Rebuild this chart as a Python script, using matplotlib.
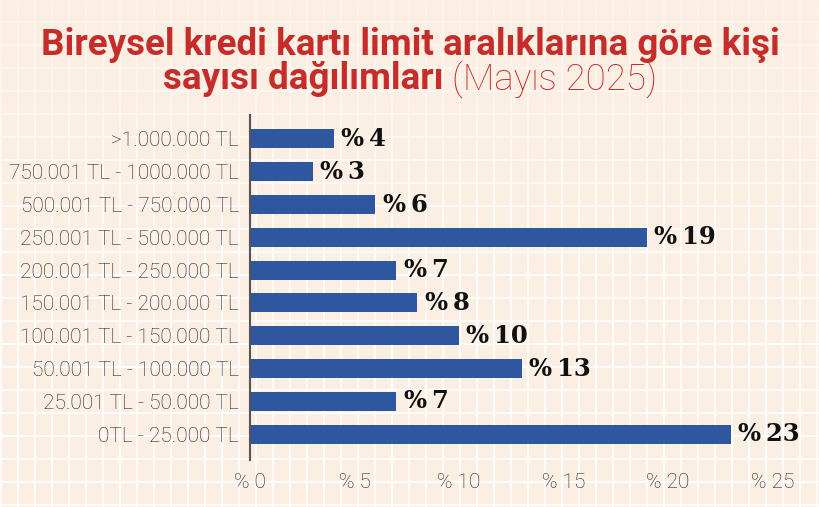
import numpy as np
import matplotlib
matplotlib.use("Agg")
import matplotlib.pyplot as plt

# data (bottom to top)
categories = [
    "0TL - 25.000 TL",
    "25.001 TL - 50.000 TL",
    "50.001 TL - 100.000 TL",
    "100.001 TL - 150.000 TL",
    "150.001 TL - 200.000 TL",
    "200.001 TL - 250.000 TL",
    "250.001 TL - 500.000 TL",
    "500.001 TL - 750.000 TL",
    "750.001 TL - 1000.000 TL",
    ">1.000.000 TL",
]
shares = [23, 7, 13, 10, 8, 7, 19, 6, 3, 4]
x_ticks = [0, 5, 10, 15, 20, 25]
x_tick_labels = ["% 0", "% 5", "% 10", "% 15", "% 20", "% 25"]

BG = "#FBEEE2"
BAR = "#2E57A0"
RED = "#C62D2A"
W, H = 820, 507

fig = plt.figure(figsize=(8.2, 5.07), dpi=100)
fig.patch.set_facecolor(BG)

# decorative background grid
bg = fig.add_axes([0, 0, 1, 1])
bg.set_xlim(0, W)
bg.set_ylim(H, 0)
bg.axis("off")
for gx in np.arange(1, W, 17):
    bg.axvline(gx, color="white", lw=1.5, alpha=0.9)
for gy in np.arange(22, H + 1, 23):
    bg.axhline(gy, color="white", lw=1.5, alpha=0.9)
# fade the grid towards the top
fade = np.zeros((H, 1, 4))
fade[..., :3] = matplotlib.colors.to_rgb(BG)
fade[:, 0, 3] = np.clip(0.75 * (1 - np.arange(H) / 260.0), 0, 1)
bg.imshow(fade, extent=[0, W, H, 0], aspect="auto", zorder=3)

title_fonts = ["Roboto", "DejaVu Sans"]
fig.text(0.5, 1 - 55 / H, "Bireysel kredi kartı limit aralıklarına göre kişi",
         ha="center", va="baseline", fontsize=26.5, fontweight="bold",
         color=RED, family=title_fonts)
t_bold = fig.text(0, 1 - 89 / H, "sayısı dağılımları ", fontsize=26.5, fontweight="bold",
                  color=RED, family=title_fonts, va="baseline")
t_light = fig.text(0, 1 - 89 / H, "(Mayıs 2025)", fontsize=26.5, fontweight="light",
                   color=RED, family=title_fonts, va="baseline")
fig.canvas.draw()
r = fig.canvas.get_renderer()
wb = t_bold.get_window_extent(r).width
wl = t_light.get_window_extent(r).width
start = (W - wb - wl) / 2
t_bold.set_x(start / W)
t_light.set_x((start + wb) / W)

# main chart
ax = fig.add_axes([250 / W, 1 - 460 / H, (785 - 250) / W, (460 - 115) / H])
ax.patch.set_alpha(0)
y = np.arange(len(categories))
ax.barh(y, shares, height=0.58, color=BAR, zorder=2)
ax.set_xlim(0, 535 / 20.9)
ax.set_ylim(-0.79, 9.73)

for yi, v in zip(y, shares):
    ax.text(v + 0.35, yi, f"%\u2009{v}", va="center", ha="left",
            fontsize=17.5, fontweight="bold", color="#111111",
            family=["DejaVu Serif"])

label_fonts = ["Roboto", "DejaVu Sans"]
ax.set_yticks(y)
ax.set_yticklabels(categories, fontsize=15, color="#222222",
                   family=label_fonts, fontweight="light")
ax.set_xticks(x_ticks)
ax.set_xticklabels(x_tick_labels, fontsize=15, color="#222222",
                   family=label_fonts, fontweight="light")
ax.tick_params(axis="both", length=0)
ax.tick_params(axis="y", pad=8)
ax.tick_params(axis="x", pad=9)
for s in ["top", "right", "bottom"]:
    ax.spines[s].set_visible(False)
ax.spines["left"].set_color("#555555")
ax.spines["left"].set_linewidth(1.5)

fig.savefig("out.png", dpi=100, facecolor=BG)
